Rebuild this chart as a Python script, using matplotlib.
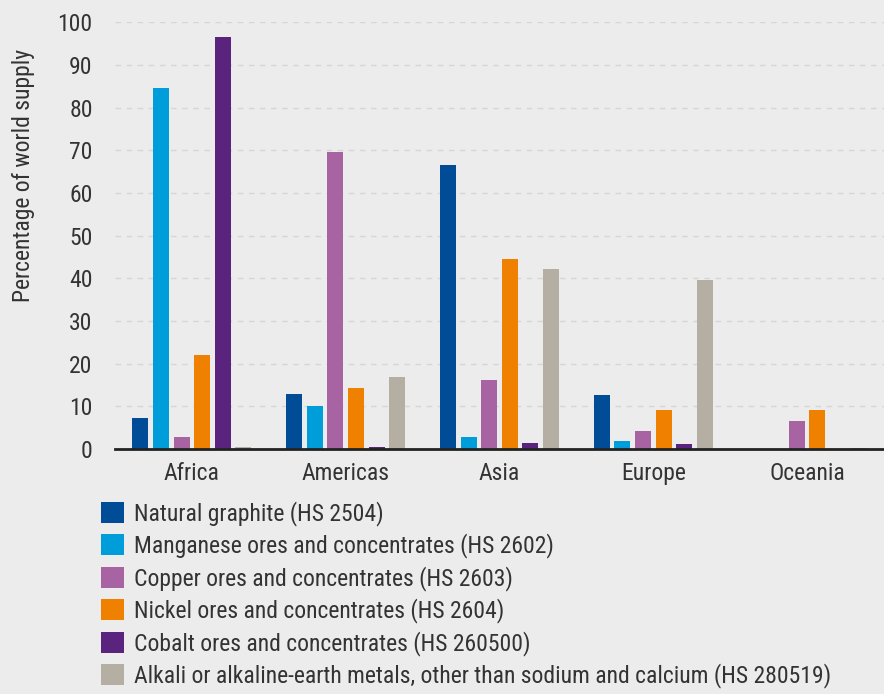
import numpy as np
import matplotlib
matplotlib.use("Agg")
import matplotlib.pyplot as plt
from matplotlib import font_manager

# ---- data ----
regions = ["Africa", "Americas", "Asia", "Europe", "Oceania"]
series_names = [
    "Natural graphite (HS 2504)",
    "Manganese ores and concentrates (HS 2602)",
    "Copper ores and concentrates (HS 2603)",
    "Nickel ores and concentrates (HS 2604)",
    "Cobalt ores and concentrates (HS 260500)",
    "Alkali or alkaline-earth metals, other than sodium and calcium (HS 280519)",
]
graphite = [7.2, 12.9, 66.5, 12.6, 0.0]
manganese = [84.5, 10.0, 2.8, 1.9, 0.0]
copper = [2.7, 69.5, 16.2, 4.2, 6.6]
nickel = [22.0, 14.4, 44.6, 9.1, 9.2]
cobalt = [96.5, 0.4, 1.3, 1.2, 0.0]
alkali = [0.5, 16.9, 42.1, 39.6, 0.3]
yticks = [0, 10, 20, 30, 40, 50, 60, 70, 80, 90, 100]

colors = ["#004c97", "#009ddb", "#a864a2", "#f08000", "#5a237d", "#b5aea3"]

# font: condensed Roboto if there, else Roboto
names = {f.name for f in font_manager.fontManager.ttflist}
family = "Roboto Condensed" if "Roboto Condensed" in names else "Roboto"
plt.rcParams["font.family"] = [family, "DejaVu Sans"]

bg = "#ececec"
fig = plt.figure(figsize=(8.84, 6.94), dpi=100, facecolor=bg)
ax = fig.add_axes([0.130, 0.353, 0.870, 0.615], facecolor=bg)

values = [graphite, manganese, copper, nickel, cobalt, alkali]
x = np.arange(len(regions))
step = 0.134
width = 0.104
handles = []
for i, (vals, col) in enumerate(zip(values, colors)):
    h = ax.bar(x + (i - 2.5) * step, vals, width=width, color=col, zorder=3)
    handles.append(h)

ax.set_xlim(-0.5, 4.5)
ax.set_ylim(0, 100)
ax.set_yticks(yticks)
ax.set_xticks(x)
ax.set_xticklabels(regions)
ax.tick_params(axis="y", length=0, pad=16, labelsize=17, labelcolor="#333333")
ax.tick_params(axis="x", length=0, pad=9, labelsize=17, labelcolor="#333333")
ax.grid(axis="y", color="#d6d6d6", linestyle=(0, (4, 4)), linewidth=1, zorder=0)
for s in ["left", "right", "top"]:
    ax.spines[s].set_visible(False)
ax.spines["bottom"].set_color("#222222")
ax.spines["bottom"].set_linewidth(2)
ax.spines["bottom"].set_zorder(4)

ax.set_ylabel("Percentage of world supply", fontsize=17, color="#333333")
ax.yaxis.set_label_coords(-0.104, 0.64)

# legend sits in the lower part of the figure, one row per series
fig.legend(handles, series_names, loc="upper left", bbox_to_anchor=(0.114, 0.278),
           frameon=False, fontsize=17, labelcolor="#333333",
           handlelength=1.0, handleheight=1.0, handletextpad=0.42,
           labelspacing=0.32, borderaxespad=0, borderpad=0)

fig.savefig("out.png", dpi=100, facecolor=bg)
